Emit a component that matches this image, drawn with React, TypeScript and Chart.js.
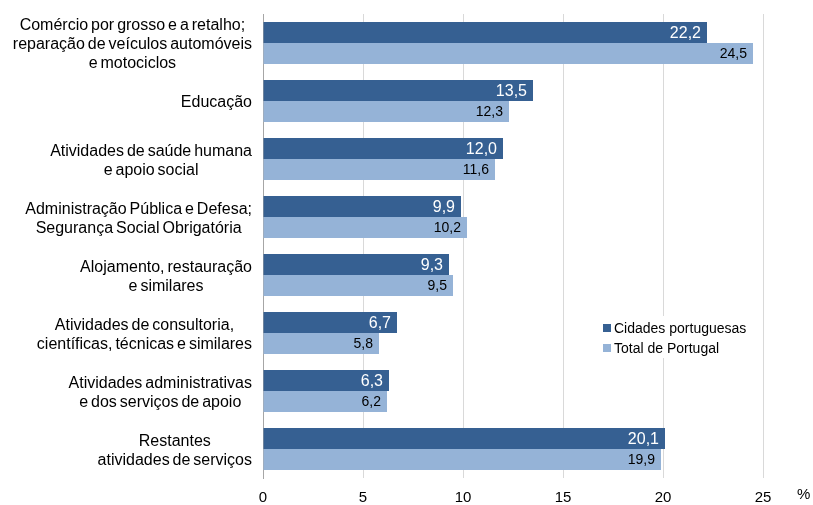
import React, { useEffect, useRef } from "react";
import { Chart, registerables } from "chart.js";
Chart.register(...registerables);

const categories: string[][] = [
  ["Comércio por grosso e a retalho;", "reparação de veículos automóveis", "e motociclos"],
  ["Educação"],
  ["Atividades de saúde humana", "e apoio social"],
  ["Administração Pública e Defesa;", "Segurança Social Obrigatória"],
  ["Alojamento, restauração", "e similares"],
  ["Atividades de consultoria,", "científicas, técnicas e similares"],
  ["Atividades administrativas", "e dos serviços de apoio"],
  ["Restantes", "atividades de serviços"],
];
const seriesNames = ["Cidades portuguesas", "Total de Portugal"];
const cidades = [22.2, 13.5, 12.0, 9.9, 9.3, 6.7, 6.3, 20.1];
const total = [24.5, 12.3, 11.6, 10.2, 9.5, 5.8, 6.2, 19.9];
const xMin = 0;
const xMax = 25;
const xStep = 5;
const unitLabel = "%";

const DARK = "#366092";
const LIGHT = "#95B3D7";
const FONT = '"Liberation Sans", Arial, sans-serif';

const fmt = (v: number) => v.toFixed(1).replace(".", ",");

const customDraw = {
  id: "customDraw",
  afterDraw(chart: any) {
    const ctx = chart.ctx as any;
    const yScale = chart.scales.y;
    const area = chart.chartArea;
    ctx.save();
    // category labels
    ctx.font = `16px ${FONT}`;
    ctx.fillStyle = "#000";
    ctx.textBaseline = "middle";
    ctx.textAlign = "center";
    if ("wordSpacing" in ctx) ctx.wordSpacing = "-1.5px";
    const lineH = 19;
    categories.forEach((lines, i) => {
      const yc = yScale.getPixelForValue(i) + 2;
      const maxW = Math.max(...lines.map((l) => ctx.measureText(l).width));
      const cx = area.left - 11 - maxW / 2;
      const start = yc - ((lines.length - 1) * lineH) / 2;
      lines.forEach((l: string, k: number) => ctx.fillText(l, cx, start + k * lineH));
    });
    if ("wordSpacing" in ctx) ctx.wordSpacing = "0px";
    // data labels
    ctx.textAlign = "right";
    chart.data.datasets.forEach((ds: any, di: number) => {
      const meta = chart.getDatasetMeta(di);
      ctx.font = di === 0 ? `16px ${FONT}` : `14px ${FONT}`;
      ctx.fillStyle = di === 0 ? "#FFFFFF" : "#000000";
      meta.data.forEach((el: any, j: number) => {
        ctx.fillText(fmt(ds.data[j]), el.x - 6, el.y + 1);
      });
    });
    // unit label
    ctx.font = `15px ${FONT}`;
    ctx.fillStyle = "#000";
    ctx.textAlign = "left";
    ctx.fillText(unitLabel, area.right + 34, area.bottom + 17);
    // legend
    const lx = area.left + 335;
    const ly = 316;
    ctx.fillStyle = "#FFFFFF";
    ctx.fillRect(lx, ly, 148, 42);
    chart.data.datasets.forEach((ds: any, di: number) => {
      const y = ly + 12 + di * 20;
      ctx.fillStyle = ds.backgroundColor;
      ctx.fillRect(lx + 5, y - 4, 8, 8);
      ctx.fillStyle = "#000";
      ctx.font = `14px ${FONT}`;
      ctx.textAlign = "left";
      ctx.fillText(ds.label, lx + 16, y + 1);
    });
    ctx.restore();
  },
};

export default function App() {
  const ref = useRef<HTMLCanvasElement | null>(null);
  useEffect(() => {
    document.body.style.margin = "0";
    const chart = new Chart(ref.current!, {
      type: "bar",
      data: {
        labels: categories.map((c) => c.join(" ")),
        datasets: [
          { label: seriesNames[0], data: cidades, backgroundColor: DARK },
          { label: seriesNames[1], data: total, backgroundColor: LIGHT },
        ],
      },
      options: {
        indexAxis: "y",
        responsive: false,
        animation: false,
        devicePixelRatio: 1,
        layout: { padding: { top: 14, right: 50, bottom: 0, left: 0 } },
        datasets: { bar: { categoryPercentage: 0.724, barPercentage: 1 } },
        plugins: { legend: { display: false }, tooltip: { enabled: false } },
        scales: {
          x: {
            min: xMin,
            max: xMax,
            ticks: { stepSize: xStep, color: "#000", font: { size: 15, family: FONT }, padding: 11 },
            grid: { color: "#D9D9D9", drawTicks: false },
            border: { display: false },
            afterFit: (s: any) => { s.height = 27; },
          },
          y: {
            ticks: { display: false },
            grid: { display: false },
            border: { display: true, color: "#A6A6A6" },
            afterFit: (s: any) => { s.width = 263; },
          },
        },
      } as any,
      plugins: [customDraw],
    });
    return () => chart.destroy();
  }, []);
  return (
    <div style={{ position: "absolute", left: 0, top: 0, width: 813, height: 505 }}>
      <canvas ref={ref} width={813} height={505} />
    </div>
  );
}
